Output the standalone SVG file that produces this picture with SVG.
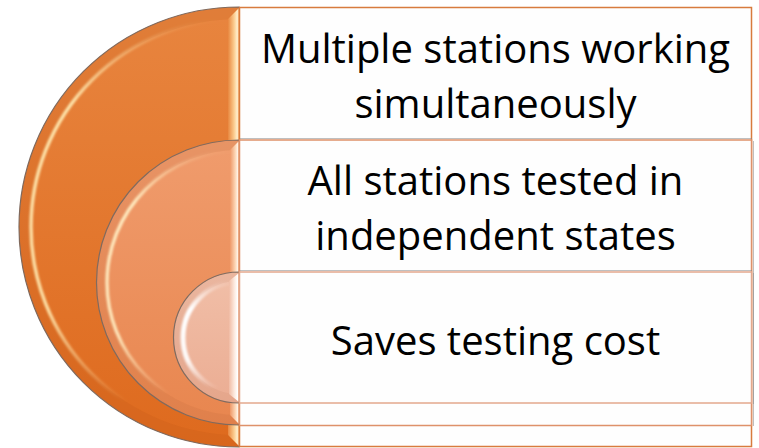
<svg xmlns="http://www.w3.org/2000/svg" width="759" height="448" viewBox="0 0 759 448">
  <style>
    .lbl { font-family: "Open Sans", "Noto Sans", "DejaVu Sans", sans-serif; font-size: 40px; fill: #000; text-anchor: middle; }
    .outline { stroke: #7E6C62; stroke-width: 1.2; }
    .box { fill: #FEFEFE; stroke-width: 1.5; }
    .shade { fill: none; stroke: #8A8A8A; stroke-width: 1; stroke-opacity: 0.55; }
  </style>
  <defs>
    <linearGradient id="fill1" x1="0" y1="0" x2="0" y2="1">
      <stop offset="0" stop-color="#E8853F"/>
      <stop offset="1" stop-color="#DE6A1E"/>
    </linearGradient>
    <linearGradient id="fill2" x1="0" y1="0" x2="0" y2="1">
      <stop offset="0" stop-color="#F09C6D"/>
      <stop offset="1" stop-color="#E8864F"/>
    </linearGradient>
    <linearGradient id="fill3" x1="0" y1="0" x2="0" y2="1">
      <stop offset="0" stop-color="#F1BFA8"/>
      <stop offset="1" stop-color="#EBAD93"/>
    </linearGradient>
    <linearGradient id="strip1" x1="0" y1="0" x2="1" y2="0">
      <stop offset="0" stop-color="#E8873F"/>
      <stop offset="0.55" stop-color="#FBCB8E"/>
      <stop offset="0.85" stop-color="#FFF0CF"/>
      <stop offset="1" stop-color="#EE9A55"/>
    </linearGradient>
    <linearGradient id="strip2" x1="0" y1="0" x2="1" y2="0">
      <stop offset="0" stop-color="#EE9868"/>
      <stop offset="0.55" stop-color="#FCD2B0"/>
      <stop offset="0.85" stop-color="#FFF3E6"/>
      <stop offset="1" stop-color="#F0A77F"/>
    </linearGradient>
    <linearGradient id="strip3" x1="0" y1="0" x2="1" y2="0">
      <stop offset="0" stop-color="#F0BBA4"/>
      <stop offset="0.5" stop-color="#FCE6DA"/>
      <stop offset="0.85" stop-color="#FFFFFF"/>
      <stop offset="1" stop-color="#F4C9B5"/>
    </linearGradient>
    <linearGradient id="hl1" gradientUnits="userSpaceOnUse" x1="0" y1="20" x2="0" y2="435">
      <stop offset="0" stop-color="#FFE7AE" stop-opacity="0"/>
      <stop offset="0.2" stop-color="#FFE7AE" stop-opacity="0.95"/>
      <stop offset="0.7" stop-color="#FFE7AE" stop-opacity="0.9"/>
      <stop offset="0.92" stop-color="#FFE7AE" stop-opacity="0"/>
    </linearGradient>
    <linearGradient id="hl2" gradientUnits="userSpaceOnUse" x1="0" y1="150" x2="0" y2="415">
      <stop offset="0" stop-color="#FFEBC0" stop-opacity="0"/>
      <stop offset="0.2" stop-color="#FFEBC0" stop-opacity="0.95"/>
      <stop offset="0.7" stop-color="#FFEBC0" stop-opacity="0.9"/>
      <stop offset="0.92" stop-color="#FFEBC0" stop-opacity="0"/>
    </linearGradient>
    <linearGradient id="hl3" gradientUnits="userSpaceOnUse" x1="0" y1="281" x2="0" y2="394">
      <stop offset="0" stop-color="#FFFFFF" stop-opacity="0"/>
      <stop offset="0.25" stop-color="#FFFFFF" stop-opacity="1"/>
      <stop offset="0.7" stop-color="#FFFFFF" stop-opacity="0.9"/>
      <stop offset="0.95" stop-color="#FFFFFF" stop-opacity="0"/>
    </linearGradient>
    <filter id="soft" x="-10%" y="-10%" width="120%" height="120%">
      <feGaussianBlur stdDeviation="1.2"/>
    </filter>
  </defs>

  <!-- large semicircle -->
  <g id="arc-outer">
    <path d="M239,7 A220,220 0 0 0 239,447 Z" fill="url(#fill1)" class="outline"/>
    <path d="M239,13 A214,214 0 0 0 239,441" fill="none" stroke="#B04E10" stroke-opacity="0.12" stroke-width="12"/>
    <path d="M239,19 A208,208 0 0 0 239,435" fill="none" stroke="url(#hl1)" stroke-width="3.5" filter="url(#soft)"/>
    <polygon points="228,19 239,8 239,446 228,435" fill="url(#strip1)"/>
  </g>

  <!-- middle semicircle -->
  <g id="arc-middle">
    <path d="M239,140 A142.5,142.5 0 0 0 239,425 Z" fill="url(#fill2)" class="outline"/>
    <path d="M239,145 A137.5,137.5 0 0 0 239,420" fill="none" stroke="#B05A30" stroke-opacity="0.12" stroke-width="10"/>
    <path d="M239,150.5 A132,132 0 0 0 239,414.5" fill="none" stroke="url(#hl2)" stroke-width="3.5" filter="url(#soft)"/>
    <polygon points="230,150 239,141 239,424 230,415" fill="url(#strip2)"/>
  </g>

  <!-- small semicircle -->
  <g id="arc-inner">
    <path d="M239,272 A65.5,65.5 0 0 0 239,403 Z" fill="url(#fill3)" class="outline"/>
    <path d="M239,276.5 A61,61 0 0 0 239,398.5" fill="none" stroke="#B07050" stroke-opacity="0.1" stroke-width="9"/>
    <path d="M239,281.5 A56,56 0 0 0 239,393.5" fill="none" stroke="url(#hl3)" stroke-width="5" filter="url(#soft)"/>
    <polygon points="229,281 239,273 239,402 229,394" fill="url(#strip3)"/>
  </g>

  <!-- text boxes -->
  <g id="box-1">
    <rect x="239.5" y="7.5" width="512" height="439" class="box" stroke="#D87B3E"/>
    <text class="lbl" x="495.5" y="63">Multiple stations working</text>
    <text class="lbl" x="495.5" y="118">simultaneously</text>
  </g>
  <g id="box-2">
    <line x1="240" y1="138.5" x2="752" y2="138.5" class="shade"/>
    <rect x="239.5" y="140" width="512" height="285.5" class="box" stroke="#DE916A"/>
    <line x1="753.5" y1="141" x2="753.5" y2="426" class="shade"/>
    <text class="lbl" x="495.5" y="195">All stations tested in</text>
    <text class="lbl" x="495.5" y="250">independent states</text>
  </g>
  <g id="box-3">
    <line x1="240" y1="270.5" x2="752" y2="270.5" class="shade"/>
    <rect x="239.5" y="272" width="512" height="131" class="box" stroke="#E3A88D"/>
    <line x1="753.5" y1="273" x2="753.5" y2="404" class="shade"/>
    <text class="lbl" x="495.5" y="355">Saves testing cost</text>
  </g>

  <g id="connectors"/>
</svg>
